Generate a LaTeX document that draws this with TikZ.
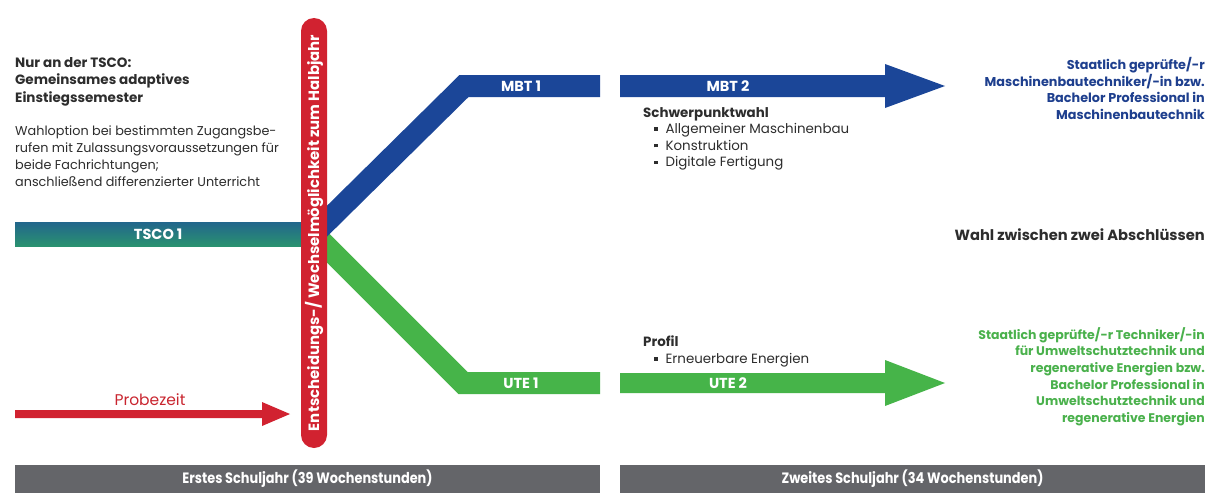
\documentclass[tikz,border=0pt]{standalone}
\usepackage{fontspec}
\setmainfont{Poppins}
\usetikzlibrary{arrows.meta}
\definecolor{mbtblue}{HTML}{1B4698}
\definecolor{utegreen}{HTML}{46B449}
\definecolor{decred}{HTML}{D12230}
\definecolor{tscotop}{HTML}{22668C}
\definecolor{tscobot}{HTML}{2A9270}
\definecolor{graybar}{HTML}{646569}
\definecolor{darktext}{HTML}{2D2D2D}
\definecolor{bluetext}{HTML}{1E3F8E}
\definecolor{greentext}{HTML}{4AB14C}
\definecolor{probered}{HTML}{C9252F}
\newcommand{\sqbul}{\hspace*{11pt}\raisebox{0.22em}{\rule{0.25em}{0.25em}}\hspace{0.6em}}
\begin{document}
\begin{tikzpicture}[x=1pt,y=-1pt,
  txt/.style={inner sep=0pt, text=darktext},
  headf/.style={font=\bfseries\fontsize{13.5}{17.5}\selectfont},
  bodyf/.style={font=\fontsize{12.8}{16.8}\selectfont},
  whitelbl/.style={inner sep=0pt, text=white, font=\bfseries\fontsize{14.5}{16}\selectfont},
  yearbar/.style={fill=graybar, minimum width=585pt, minimum height=28pt, inner sep=0pt, text=white, font=\bfseries\fontsize{15}{17}\selectfont},
  rightblk/.style={inner sep=0pt, anchor=north east, align=right, font=\bfseries\fontsize{12.8}{16.8}\selectfont},
  branch/.style={line width=22pt, line join=miter}
]
\fill[white] (0,0) rectangle (1220,503);
\useasboundingbox (0,0) rectangle (1220,503);

% left texts
\node[txt, headf, anchor=north west, align=left] (head) at (15,57)
  {Nur an der TSCO:\\Gemeinsames adaptives\\Einstiegssemester};
\node[txt, bodyf, anchor=north west, align=left] (body) at (15,126)
  {Wahloption bei bestimmten Zugangsbe-\\rufen mit Zulassungsvoraussetzungen für\\beide Fachrichtungen;\\anschließend differenzierter Unterricht};

% TSCO bar
\node[minimum width=286pt, minimum height=24pt, inner sep=0pt, top color=tscotop, bottom color=tscobot, anchor=west] (tsco) at (15,234) {};
\node[whitelbl] (tscolbl) at (tsco.center) {TSCO 1};

% branches
\coordinate (split) at (314,234);
\coordinate (mbtbend) at (464,86);
\coordinate (mbtend) at (600,86);
\coordinate (utebend) at (463,383);
\coordinate (uteend) at (600,383);
\draw[branch, utegreen] (split) -- (utebend) -- (uteend);
\draw[branch, mbtblue] (split) -- (mbtbend) -- (mbtend);

% decision bar
\node[rotate=90, fill=decred, rounded corners=13pt, minimum width=430pt, minimum height=26pt, inner sep=0pt, text=white, font=\bfseries\fontsize{14.9}{16}\selectfont] (decide) at (314,233)
  {Entscheidungs-/ Wechselmöglichkeit zum Halbjahr};

% labels first year
\node[whitelbl] (mbt1) at (521,86) {MBT 1};
\node[whitelbl] (ute1) at (521,383) {UTE 1};

% second year arrows
\fill[mbtblue] (620,75) -- (885,75) -- (885,64) -- (945,86) -- (885,108) -- (885,97) -- (620,97) -- cycle;
\fill[utegreen] (620,373) -- (885,373) -- (885,360) -- (945,383) -- (885,406) -- (885,393) -- (620,393) -- cycle;
\node[whitelbl] (mbt2) at (728,86) {MBT 2};
\node[whitelbl] (ute2) at (728,383) {UTE 2};

% Schwerpunktwahl
\node[txt, anchor=north west, align=left, font=\fontsize{13.4}{16.6}\selectfont] (schwer) at (643,107)
  {\textbf{Schwerpunktwahl}\\\sqbul Allgemeiner Maschinenbau\\\sqbul Konstruktion\\\sqbul Digitale Fertigung};
\node[txt, anchor=north west, align=left, font=\fontsize{13.4}{16.6}\selectfont] (profil) at (643,336)
  {\textbf{Profil}\\\sqbul Erneuerbare Energien};

% right texts
\node[rightblk, text=bluetext] (mbtab) at (1205,57)
  {Staatlich geprüfte/-r\\Maschinenbautechniker/-in bzw.\\Bachelor Professional in\\Maschinenbautechnik};
\node[txt, anchor=east, font=\bfseries\fontsize{14.7}{18}\selectfont] (wahl) at (1205,235) {Wahl zwischen zwei Abschlüssen};
\node[rightblk, text=greentext, font=\bfseries\fontsize{12.5}{16.7}\selectfont] (uteab) at (1205,327)
  {Staatlich geprüfte/-r Techniker/-in\\für Umweltschutztechnik und\\regenerative Energien bzw.\\Bachelor Professional in\\Umweltschutztechnik und\\regenerative Energien};

% Probezeit arrow
\coordinate (pzstart) at (15,414);
\coordinate (pztip) at (290,414);
\fill[decred] (pzstart) ++(0,-4) -- (262,410) -- (262,402) -- (pztip) -- (262,426) -- (262,418) -- (15,418) -- cycle;
\node[inner sep=0pt, text=probered, font=\fontsize{15.5}{17}\selectfont] (pzlbl) at (150,400) {Probezeit};

% year bars
\node[yearbar] (year1) at (307.5,479) {\scalebox{0.86}[1]{Erstes Schuljahr (39 Wochenstunden)}};
\node[yearbar] (year2) at (912.5,479) {\scalebox{0.86}[1]{Zweites Schuljahr (34 Wochenstunden)}};
\end{tikzpicture}
\end{document}
